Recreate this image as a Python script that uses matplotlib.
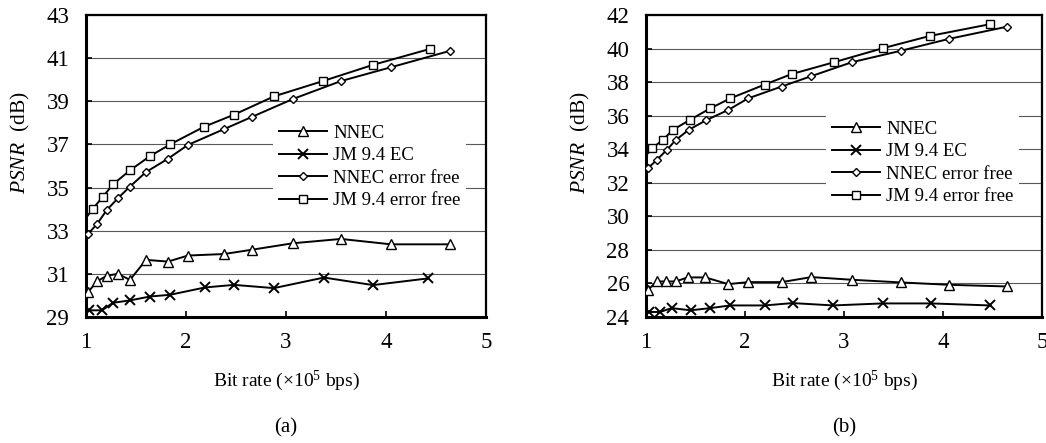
import matplotlib
matplotlib.use("Agg")
import matplotlib.pyplot as plt

plt.rcParams['font.family'] = ['Liberation Serif', 'DejaVu Serif']
plt.rcParams['mathtext.fontset'] = 'custom'
plt.rcParams['mathtext.rm'] = 'Liberation Serif'
plt.rcParams['mathtext.it'] = 'Liberation Serif:italic'

labels = ["NNEC", "JM 9.4 EC", "NNEC error free", "JM 9.4 error free"]

# ---- panel (a) ----
a_nnec_x = [1.02, 1.11, 1.21, 1.32, 1.44, 1.60, 1.82, 2.02, 2.38, 2.66, 3.07, 3.55, 4.05, 4.64]
a_nnec_y = [30.15, 30.65, 30.92, 31.0, 30.72, 31.65, 31.57, 31.85, 31.92, 32.12, 32.42, 32.62, 32.37, 32.37]
a_jm_x = [0.97, 1.03, 1.16, 1.27, 1.44, 1.64, 1.84, 2.19, 2.48, 2.88, 3.38, 3.87, 4.42]
a_jm_y = [28.95, 29.31, 29.31, 29.66, 29.77, 29.95, 30.03, 30.37, 30.49, 30.34, 30.83, 30.48, 30.79]
a_nnef_x = [0.97, 1.02, 1.11, 1.21, 1.32, 1.44, 1.60, 1.82, 2.02, 2.38, 2.66, 3.07, 3.55, 4.05, 4.64]
a_nnef_y = [32.3, 32.85, 33.31, 33.97, 34.51, 35.05, 35.72, 36.34, 36.98, 37.71, 38.28, 39.11, 39.94, 40.58, 41.34]
a_jmef_x = [0.97, 1.07, 1.17, 1.27, 1.44, 1.64, 1.84, 2.18, 2.48, 2.88, 3.37, 3.87, 4.44]
a_jmef_y = [33.4, 34.03, 34.58, 35.15, 35.8, 36.46, 37.0, 37.82, 38.38, 39.23, 39.94, 40.69, 41.43]

# ---- panel (b) ----
b_nnec_x = [0.97, 1.02, 1.11, 1.20, 1.30, 1.42, 1.60, 1.83, 2.03, 2.37, 2.67, 3.08, 3.58, 4.06, 4.65]
b_nnec_y = [25.9, 25.62, 26.12, 26.12, 26.12, 26.36, 26.36, 25.96, 26.08, 26.08, 26.38, 26.22, 26.06, 25.92, 25.82]
b_jm_x = [0.97, 1.03, 1.14, 1.26, 1.45, 1.65, 1.85, 2.20, 2.48, 2.89, 3.39, 3.88, 4.47]
b_jm_y = [24.3, 24.30, 24.30, 24.53, 24.40, 24.53, 24.69, 24.69, 24.83, 24.69, 24.81, 24.81, 24.69]
b_nnef_x = [0.97, 1.02, 1.11, 1.21, 1.30, 1.43, 1.61, 1.83, 2.03, 2.37, 2.67, 3.08, 3.58, 4.06, 4.65]
b_nnef_y = [32.4, 32.87, 33.37, 33.96, 34.55, 35.15, 35.74, 36.34, 37.03, 37.74, 38.36, 39.19, 39.88, 40.58, 41.31]
b_jmef_x = [0.97, 1.06, 1.17, 1.27, 1.44, 1.65, 1.85, 2.20, 2.47, 2.90, 3.39, 3.87, 4.47]
b_jmef_y = [33.4, 34.06, 34.55, 35.15, 35.74, 36.44, 37.03, 37.86, 38.48, 39.19, 40.02, 40.76, 41.45]

xticks = [1, 2, 3, 4, 5]
a_yticks = [29, 31, 33, 35, 37, 39, 41, 43]
b_yticks = [24, 26, 28, 30, 32, 34, 36, 38, 40, 42]

styles = [dict(marker='^', ms=6.5), dict(marker='x', ms=6.5, mew=1.4),
          dict(marker='D', ms=4.2), dict(marker='s', ms=6)]


def draw(ax, series, yticks, legend_anchor, ylab_x, tag):
    for (xs, ys), st, lab in zip(series, styles, labels):
        start = 1 if xs[0] < 1 else 0
        ax.plot(xs, ys, color='black', lw=1.4, mfc='white', mec='black',
                markevery=list(range(start, len(xs))), label=lab, zorder=3, **st)
    ax.set_xlim(1, 5)
    ax.set_ylim(yticks[0], yticks[-1])
    ax.set_xticks(xticks)
    ax.set_yticks(yticks)
    ax.tick_params(direction='in', length=4, width=1.2, labelsize=16.5, pad=12)
    ax.tick_params(axis='x', pad=11)
    ax.grid(axis='y', color='0.35', lw=0.8)
    ax.set_axisbelow(True)
    for s in ['left', 'bottom']:
        ax.spines[s].set_linewidth(2.2)
    for s in ['top', 'right']:
        ax.spines[s].set_linewidth(1.6)
    ax.set_ylabel(r'$\mathit{PSNR}$  (dB)', fontsize=15.5)
    ax.yaxis.set_label_coords(ylab_x, 0.576)
    ax.set_xlabel(r'Bit rate (×10$^5$ bps)', fontsize=14, labelpad=11)
    ax.text(0.5, -0.335, tag, transform=ax.transAxes, ha='center', va='top', fontsize=15)
    leg = ax.legend(loc='center left', bbox_to_anchor=legend_anchor, fontsize=13.5,
                    frameon=True, fancybox=False, edgecolor='none', facecolor='white',
                    framealpha=1, handlelength=2.6, handletextpad=0.3,
                    labelspacing=0.28, borderpad=0.3, borderaxespad=0)
    leg.set_zorder(2)


fig = plt.figure(figsize=(10.46, 4.43), dpi=100)
ax1 = fig.add_axes([0.0822, 0.2844, 0.3824, 0.6816])
ax2 = fig.add_axes([0.6176, 0.2844, 0.3786, 0.6816])

draw(ax1, [(a_nnec_x, a_nnec_y), (a_jm_x, a_jm_y), (a_nnef_x, a_nnef_y), (a_jmef_x, a_jmef_y)],
     a_yticks, (0.4675, 0.497), -0.135, '(a)')
draw(ax2, [(b_nnec_x, b_nnec_y), (b_jm_x, b_jm_y), (b_nnef_x, b_nnef_y), (b_jmef_x, b_jmef_y)],
     b_yticks, (0.4545, 0.51), -0.137, '(b)')

fig.savefig('out.png', dpi=100)
